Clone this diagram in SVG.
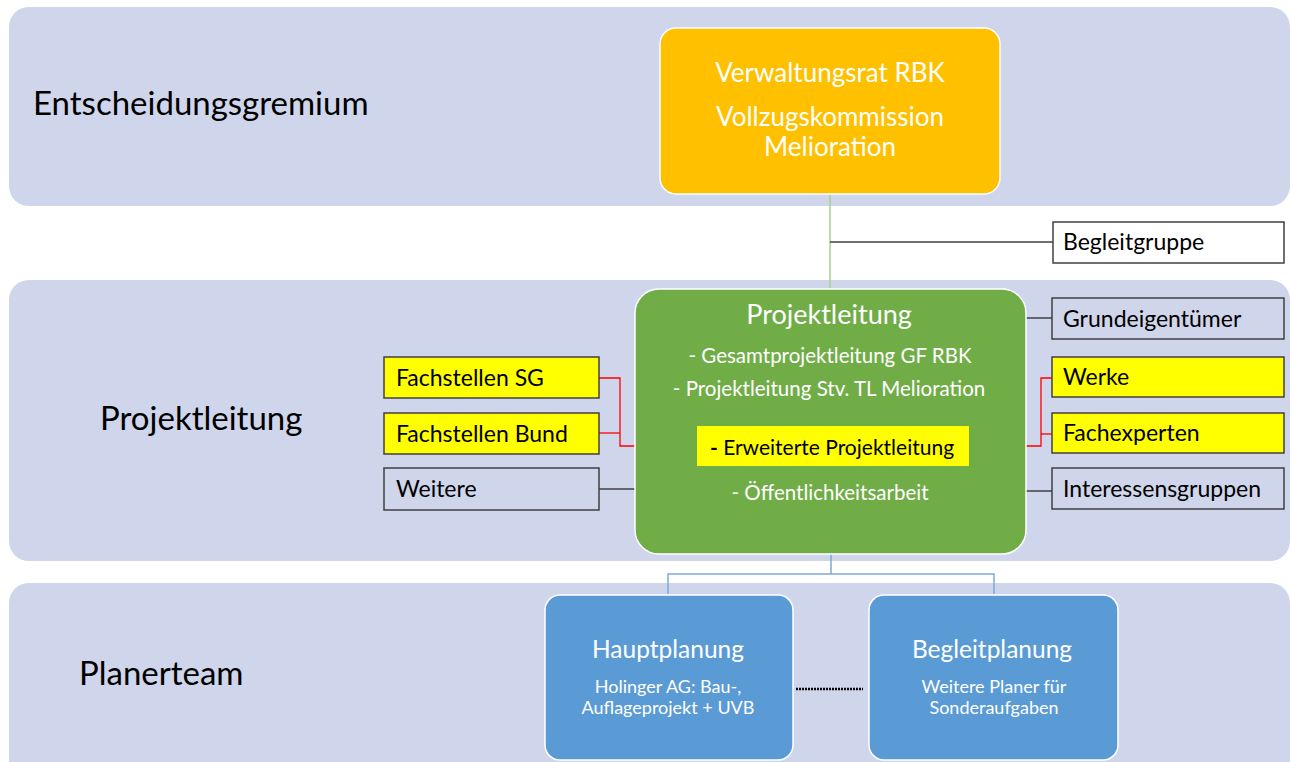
<svg xmlns="http://www.w3.org/2000/svg" width="1291" height="762" viewBox="0 0 1291 762">
<style>
.band{fill:#CFD5EA}
.lbl{font-family:Lato,"Liberation Sans",sans-serif;fill:#000;font-size:33px}
.w{font-family:Lato,"Liberation Sans",sans-serif;fill:#fff;text-anchor:middle}
.box{stroke:#404040;stroke-width:1.5}
.bt{font-family:Lato,"Liberation Sans",sans-serif;font-size:23px;fill:#000}
.gray{stroke:#404040;stroke-width:1.5;fill:none}
.red{stroke:#FF0000;stroke-width:1.3;fill:none}
</style>
<rect width="1291" height="762" fill="#fff"/>
<g id="band-entscheidung"><rect class="band" x="9" y="7" width="1281" height="199" rx="20"/><text class="lbl" x="33" y="115">Entscheidungsgremium</text></g>
<g id="band-projektleitung"><rect class="band" x="9" y="280" width="1281" height="281" rx="20"/><text class="lbl" x="100" y="430">Projektleitung</text></g>
<g id="band-planerteam"><rect class="band" x="9" y="583" width="1281" height="200" rx="20"/><text class="lbl" x="79" y="685">Planerteam</text></g>
<g id="connectors">
<line x1="830" y1="194" x2="830" y2="289" stroke="#A9D18E" stroke-width="1.5"/>
<line class="gray" x1="830" y1="242" x2="1053" y2="242"/>
<line class="gray" x1="1026" y1="318" x2="1052" y2="318"/>
<line class="gray" x1="1026" y1="491" x2="1052" y2="491"/>
<line class="gray" x1="599" y1="489" x2="635" y2="489"/>
<polyline class="red" points="599,378 620,378 620,446 697,446"/>
<line class="red" x1="599" y1="433" x2="620" y2="433"/>
<polyline class="red" points="969,446 1041,446 1041,378 1052,378"/>
<line class="red" x1="1041" y1="434" x2="1052" y2="434"/>
<polyline points="831,554 831,574" stroke="#7FA9DA" stroke-width="1.5" fill="none"/>
<polyline points="668,594 668,574 994,574 994,594" stroke="#7FA9DA" stroke-width="1.5" fill="none"/>
<line x1="796" y1="689" x2="863" y2="689" stroke="#000" stroke-width="2.5" stroke-dasharray="2,1"/>
</g>
<g id="node-verwaltungsrat"><rect x="660" y="28" width="340" height="166" rx="16" fill="#FFC000" stroke="#fff" stroke-width="1.5"/>
<text class="w" x="830" y="82" font-size="26">Verwaltungsrat RBK</text>
<text class="w" x="830" y="126" font-size="26">Vollzugskommission</text>
<text class="w" x="830" y="156" font-size="26">Melioration</text></g>
<g id="node-projektleitung"><rect x="635" y="289" width="391" height="265" rx="24" fill="#70AD47" stroke="#fff" stroke-width="1.5"/>
<text class="w" x="829" y="324" font-size="27">Projektleitung</text>
<text class="w" x="830" y="363" font-size="20.5">- Gesamtprojektleitung GF RBK</text>
<text class="w" x="829" y="396" font-size="20.5">- Projektleitung Stv. TL Melioration</text>
<rect x="697" y="426" width="272" height="40" fill="#FFFF00"/>
<text x="832" y="455" font-size="21" text-anchor="middle" font-family="Lato,'Liberation Sans',sans-serif" fill="#000"><tspan font-weight="bold">-</tspan> Erweiterte Projektleitung</text>
<text class="w" x="830" y="500" font-size="20.5">- Öffentlichkeitsarbeit</text></g>
<g id="node-fachstellen-sg"><rect class="box" x="384" y="357" width="215" height="41" fill="#FFFF00"/><text class="bt" x="396" y="386">Fachstellen SG</text></g>
<g id="node-fachstellen-bund"><rect class="box" x="384" y="413" width="215" height="41" fill="#FFFF00"/><text class="bt" x="396" y="442">Fachstellen Bund</text></g>
<g id="node-weitere"><rect class="box" x="384" y="468" width="215" height="42" fill="none"/><text class="bt" x="396" y="497">Weitere</text></g>
<g id="node-begleitgruppe"><rect class="box" x="1053" y="222" width="231" height="41" fill="#fff"/><text class="bt" x="1063" y="250">Begleitgruppe</text></g>
<g id="node-grundeigentuemer"><rect class="box" x="1052" y="298" width="232" height="41" fill="none"/><text class="bt" x="1063" y="327">Grundeigentümer</text></g>
<g id="node-werke"><rect class="box" x="1052" y="357" width="232" height="40" fill="#FFFF00"/><text class="bt" x="1063" y="385">Werke</text></g>
<g id="node-fachexperten"><rect class="box" x="1052" y="413" width="232" height="40" fill="#FFFF00"/><text class="bt" x="1063" y="441">Fachexperten</text></g>
<g id="node-interessensgruppen"><rect class="box" x="1052" y="468" width="232" height="41" fill="none"/><text class="bt" x="1063" y="497">Interessensgruppen</text></g>
<g id="node-hauptplanung"><rect x="545" y="595" width="248" height="165" rx="15" fill="#5B9BD5" stroke="#fff" stroke-width="1.5"/>
<text class="w" x="668" y="658" font-size="24.5">Hauptplanung</text>
<text class="w" x="668" y="693" font-size="18">Holinger AG: Bau-,</text>
<text class="w" x="668" y="714" font-size="18">Auflageprojekt + UVB</text></g>
<g id="node-begleitplanung"><rect x="869" y="595" width="249" height="165" rx="15" fill="#5B9BD5" stroke="#fff" stroke-width="1.5"/>
<text class="w" x="992" y="658" font-size="24.5">Begleitplanung</text>
<text class="w" x="994" y="693" font-size="18">Weitere Planer für</text>
<text class="w" x="994" y="714" font-size="18">Sonderaufgaben</text></g>
</svg>
